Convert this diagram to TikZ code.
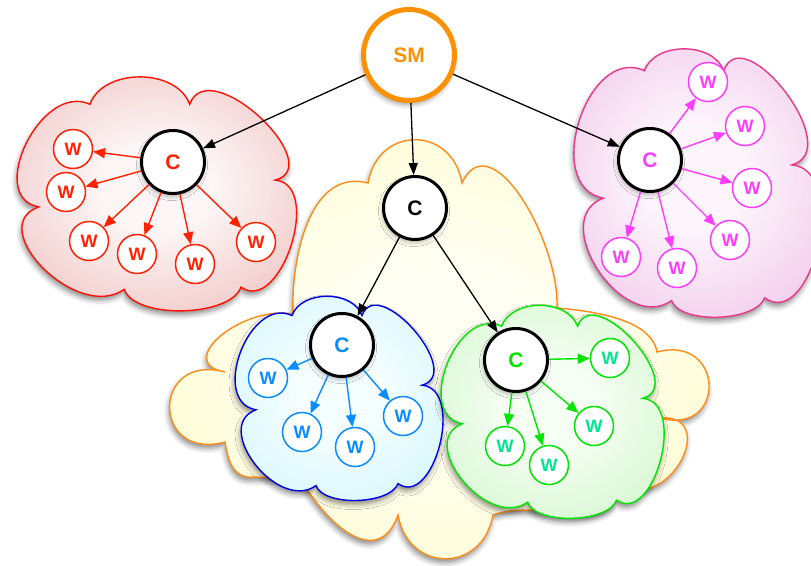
\documentclass[tikz,border=0pt]{standalone}
\usepackage{fontspec}
\setmainfont{Liberation Sans}
\usetikzlibrary{arrows.meta,shadows.blur}
\definecolor{redline}{HTML}{FF1100}
\definecolor{redtxt}{HTML}{FF2200}
\definecolor{redout}{HTML}{E9A6A6}
\definecolor{redin}{HTML}{FDF6F6}
\definecolor{pinkline}{HTML}{E8388A}
\definecolor{pinktxt}{HTML}{FF3DFF}
\definecolor{pinkout}{HTML}{EAAEDE}
\definecolor{pinkin}{HTML}{FDF5FC}
\definecolor{blueline}{HTML}{0000E0}
\definecolor{bluetxt}{HTML}{0A8CFF}
\definecolor{blueout}{HTML}{C2F2FB}
\definecolor{bluein}{HTML}{F5FEFF}
\definecolor{greenline}{HTML}{00E600}
\definecolor{greentxt}{HTML}{00E68C}
\definecolor{greenout}{HTML}{BFF0B8}
\definecolor{greenin}{HTML}{F6FFF4}
\definecolor{yelline}{HTML}{FF8C1A}
\definecolor{yelout}{HTML}{FFFAC0}
\definecolor{yelin}{HTML}{FFFFF4}
\definecolor{smorange}{HTML}{FF9100}
\colorlet{cin}{white}
\colorlet{cout}{white}
\pgfdeclareradialshading[cin,cout]{cloudrad}{\pgfpointorigin}{color(0bp)=(cin); color(8bp)=(cin); color(40bp)=(cout); color(70bp)=(cout)}
\newcommand\cloudpath[4]{%
 ({#1+0.27*#3},{#2+0.10*#4})
 to[out=70,in=110,looseness=1] ({#1+0.62*#3},{#2+0.10*#4})
 to[out=70,in=15,looseness=1.25] ({#1+0.92*#3},{#2+0.44*#4})
 to[out=-5,in=-35,looseness=1.1] ({#1+0.80*#3},{#2+0.92*#4})
 to[out=-110,in=-70,looseness=0.7] ({#1+0.39*#3},{#2+0.93*#4})
 to[out=-145,in=-160,looseness=1.25] ({#1+0.09*#3},{#2+0.56*#4})
 to[out=170,in=155,looseness=1.2] ({#1+0.27*#3},{#2+0.10*#4}) -- cycle}
\tikzset{
  shad/.style={blur shadow={shadow xshift=-1pt,shadow yshift=-4pt,shadow blur radius=5pt,shadow opacity=45}},
  cloudsty/.style n args={3}{draw=#1,line width=1.4pt,
    /utils/exec={\colorlet{cin}{#2}\colorlet{cout}{#3}},shade,shading=cloudrad,shad},
  wnode/.style={circle,draw=#1,line width=1.5pt,fill=white,minimum size=39pt,inner sep=0pt,text=#1,
    font=\bfseries\fontsize{18}{18}\selectfont},
  cnode/.style={circle,draw=black,line width=3pt,fill=white,minimum size=63pt,inner sep=0pt,text=#1,
    font=\bfseries\fontsize{21}{21}\selectfont,
    blur shadow={shadow xshift=-1pt,shadow yshift=-3pt,shadow blur radius=4pt,shadow opacity=30}},
  smnode/.style={circle,draw=smorange,line width=5pt,fill=white,minimum size=91pt,inner sep=0pt,text=smorange,
    font=\bfseries\fontsize{21}{21}\selectfont,
    blur shadow={shadow xshift=-1pt,shadow yshift=-4pt,shadow blur radius=5pt,shadow opacity=40}},
  carr/.style={draw=#1,line width=1.4pt,-{Triangle[length=12pt,width=10pt,fill=#1]}},
  barr/.style={draw=black,line width=1.3pt,-{Triangle[length=12pt,width=9pt]}},
}
\begin{document}
\begin{tikzpicture}[x=1pt,y=-1pt]
\useasboundingbox (0,0) rectangle (811,565);
% yellow cloud
\path[cloudsty={yelline}{yelin}{yelout}]
 (368,183) to[out=80,in=100,looseness=1.6] (462,183)
 to[out=65,in=88,looseness=1.1] (557,308)
 to[out=-5,in=100,looseness=0.8] (657,352)
 to[out=15,in=-15,looseness=2.7] (660,418)
 to[out=5,in=-25,looseness=1.9] (620,486)
 to[out=-100,in=20,looseness=1] (493,515)
 to[out=-100,in=-80,looseness=1.6] (398,515)
 to[out=-110,in=-60,looseness=1.4] (300,478)
 -- (247,477)
 to[out=170,in=-80,looseness=1] (225,442)
 to[out=-165,in=165,looseness=2.8] (225,372)
 to[out=170,in=170,looseness=1.5] (293,314)
 to[out=92,in=165,looseness=1] (368,183) -- cycle;
% coloured clouds
\path[cloudsty={redline}{redin}{redout}] \cloudpath{13}{82}{285}{223};
\path[cloudsty={pinkline}{pinkin}{pinkout}] \cloudpath{583}{43}{227}{277};
\path[cloudsty={blueline}{bluein}{blueout}] \cloudpath{238}{295}{200}{205};
\path[cloudsty={greenline}{greenin}{greenout}] \cloudpath{443}{305}{217}{212};
% nodes
\node[smnode] (sm) at (409,55) {SM};
\node[cnode=black] (cm) at (415,208) {C};
\node[cnode=redtxt] (cr) at (173,162) {C};
\node[cnode=pinktxt] (cp) at (650,160) {C};
\node[cnode=bluetxt] (cb) at (342,345) {C};
\node[cnode=greenline] (cg) at (516,360) {C};
\foreach \n/\x/\y in {r1/73/149,r2/66/192,r3/89/241,r4/137/254,r5/195/264,r6/256/242}
  \node[wnode=redtxt] (\n) at (\x,\y) {W};
\foreach \n/\x/\y in {p1/708/82,p2/745/126,p3/752/188,p4/730/240,p5/677/268,p6/621/257}
  \node[wnode=pinktxt] (\n) at (\x,\y) {W};
\foreach \n/\x/\y in {b1/268/378,b2/302/432,b3/355/447,b4/403/416}
  \node[wnode=bluetxt] (\n) at (\x,\y) {W};
\foreach \n/\x/\y in {g1/610/358,g2/594/426,g3/549/465,g4/505/446}
  \node[wnode=greenline,text=greentxt] (\n) at (\x,\y) {W};
% connectors
\draw[barr] (sm) -- (cr);
\draw[barr] (sm) -- (cm);
\draw[barr] (sm) -- (cp);
\draw[barr] (cm) -- (cb);
\draw[barr] (cm) -- (cg);
\foreach \n in {r1,r2,r3,r4,r5,r6} \draw[carr=redtxt] (cr) -- (\n);
\foreach \n in {p1,p2,p3,p4,p5,p6} \draw[carr=pinktxt] (cp) -- (\n);
\foreach \n in {b1,b2,b3,b4} \draw[carr=bluetxt] (cb) -- (\n);
\foreach \n in {g1,g2,g3,g4} \draw[carr=greenline] (cg) -- (\n);
\end{tikzpicture}
\end{document}
